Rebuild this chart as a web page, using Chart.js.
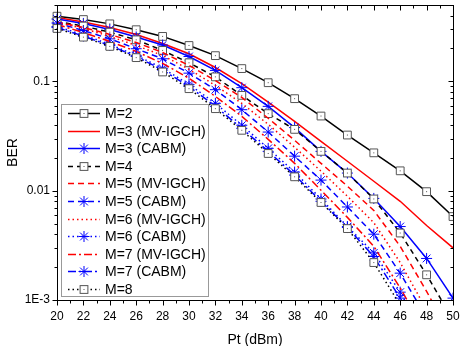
<!DOCTYPE html>
<html>
<head>
<meta charset="utf-8">
<script src="https://cdn.jsdelivr.net/npm/chart.js@4.4.1/dist/chart.umd.min.js"></script>
<style>
  html, body { margin: 0; padding: 0; background: #fff; }
  #wrap { width: 463px; height: 346px; }
</style>
</head>
<body>
<div id="wrap"><canvas id="berChart" width="463" height="346"></canvas></div>
<script>
// transmit power (dBm), one point every 2 dB
const ptDbm = [20, 22, 24, 26, 28, 30, 32, 34, 36, 38, 40, 42, 44, 46, 48, 50];

// BER
const berM2      = [0.395, 0.368, 0.336, 0.297, 0.258, 0.213, 0.172, 0.131, 0.0973, 0.0695, 0.0482, 0.0323, 0.0222, 0.0152, 0.0098, 0.0058];
const berM3Mv    = [0.384, 0.350, 0.311, 0.269, 0.222, 0.179, 0.134, 0.0953, 0.0647, 0.0431, 0.0283, 0.0186, 0.0122, 0.0080, 0.0048, 0.0030];
const berM3Cabm  = [0.372, 0.339, 0.299, 0.255, 0.215, 0.169, 0.126, 0.0876, 0.0591, 0.0378, 0.0229, 0.0145, 0.0085, 0.0047, 0.0024, 0.00104];
const berM4      = [0.353, 0.321, 0.282, 0.240, 0.192, 0.148, 0.110, 0.0745, 0.0507, 0.0364, 0.0229, 0.0145, 0.0084, 0.0041, 0.0017, 0.00066];
const berM5Mv    = [0.350, 0.311, 0.269, 0.227, 0.184, 0.140, 0.102, 0.0714, 0.0460, 0.0289, 0.0178, 0.0110, 0.0066, 0.0031, 0.0012, 0.00043];
const berM5Cabm  = [0.342, 0.292, 0.245, 0.199, 0.161, 0.119, 0.0840, 0.0551, 0.0344, 0.0207, 0.0125, 0.0071, 0.0040, 0.00176, 0.00069, 0.00026];
const berM6Mv    = [0.346, 0.305, 0.258, 0.213, 0.173, 0.129, 0.0919, 0.0630, 0.0405, 0.0250, 0.0151, 0.0089, 0.0051, 0.0022, 0.00081, 0.00028];
const berM6Cabm  = [0.318, 0.266, 0.218, 0.173, 0.132, 0.0939, 0.0630, 0.0397, 0.0244, 0.0148, 0.0084, 0.0047, 0.0027, 0.00118, 0.00043, 0.00015];
const berM7Mv    = [0.332, 0.280, 0.232, 0.188, 0.146, 0.107, 0.0729, 0.0479, 0.0295, 0.0178, 0.0101, 0.0057, 0.0031, 0.00129, 0.00048, 0.00017];
const berM7Cabm  = [0.311, 0.260, 0.213, 0.169, 0.127, 0.0900, 0.0591, 0.0372, 0.0229, 0.0139, 0.0080, 0.0046, 0.0025, 0.00104, 0.00039, 0.00014];
const berM8      = [0.305, 0.254, 0.209, 0.165, 0.122, 0.0858, 0.0563, 0.0357, 0.0219, 0.0134, 0.0078, 0.0045, 0.0022, 0.0009, 0.00035, 0.00012];

const seriesLabels = ['M=2', 'M=3 (MV-IGCH)', 'M=3 (CABM)', 'M=4', 'M=5 (MV-IGCH)', 'M=5 (CABM)',
                      'M=6 (MV-IGCH)', 'M=6 (CABM)', 'M=7 (MV-IGCH)', 'M=7 (CABM)', 'M=8'];
const seriesValues = [berM2, berM3Mv, berM3Cabm, berM4, berM5Mv, berM5Cabm,
                      berM6Mv, berM6Cabm, berM7Mv, berM7Cabm, berM8];

const xMin = 20, xMax = 50, xTickStep = 2;
const yMin = 0.001, yMax = 0.5;
const yTickLabels = { '-1': '0.1', '-2': '0.01', '-3': '1E-3' };

const BLACK = '#000000', RED = '#ff0000', BLUE = '#0000ff';
const SOLID = [], DASH = [6, 4], DOT = [1.5, 3], DASHDOT = [8, 3, 2, 3];
const FONT = 'Arial, "Liberation Sans", sans-serif';

const styles = [
    { color: BLACK, dash: SOLID,   marker: 'rect' },
    { color: RED,   dash: SOLID,   marker: null },
    { color: BLUE,  dash: SOLID,   marker: 'star' },
    { color: BLACK, dash: [5, 4],  marker: 'rect' },
    { color: RED,   dash: DASH,    marker: null },
    { color: BLUE,  dash: DASH,    marker: 'star' },
    { color: RED,   dash: DOT,     marker: null },
    { color: BLUE,  dash: DOT,     marker: 'star' },
    { color: RED,   dash: DASHDOT, marker: null },
    { color: BLUE,  dash: DASHDOT, marker: 'star' },
    { color: BLACK, dash: DOT,     marker: 'rect' },
];

const datasets = seriesLabels.map((label, i) => {
    const s = styles[i];
    return {
        label: label,
        data: ptDbm.map((x, j) => ({ x: x, y: seriesValues[i][j] })),
        borderColor: s.color,
        borderWidth: 1.5,
        borderDash: s.dash,
        pointStyle: s.marker || 'circle',
        pointRadius: s.marker ? 5.5 : 0,
        pointBorderWidth: 1,
        pointBorderColor: s.marker === 'rect' ? '#555555' : s.color,
        pointBackgroundColor: '#ffffff',
        fill: false,
        tension: 0,
        order: -i,
        clip: { left: 8, top: 8, right: 0, bottom: 0 }
    };
});

function drawMarker(ctx, style, x, y, r, stroke, fill)
{
    ctx.save();
    ctx.setLineDash([]);
    ctx.lineWidth = 1;
    ctx.strokeStyle = stroke;
    ctx.fillStyle = fill;
    if (style === 'rect') {
        const s = r * Math.SQRT1_2;
        ctx.fillRect(x - s, y - s, 2 * s, 2 * s);
        ctx.strokeRect(x - s, y - s, 2 * s, 2 * s);
        ctx.fillStyle = stroke;
        ctx.fillRect(x - 0.5, y - 0.5, 1, 1);
    } else if (style === 'star') {
        const d = r * Math.SQRT1_2;
        ctx.beginPath();
        ctx.moveTo(x - r, y); ctx.lineTo(x + r, y);
        ctx.moveTo(x, y - r); ctx.lineTo(x, y + r);
        ctx.moveTo(x - d, y - d); ctx.lineTo(x + d, y + d);
        ctx.moveTo(x - d, y + d); ctx.lineTo(x + d, y - d);
        ctx.stroke();
    }
    ctx.restore();
}

// Origin-like frame: box, ticks on all four sides, legend inside the plot
const originFrame = {
    id: 'originFrame',
    afterDatasetsDraw(chart)
    {
        const { ctx, chartArea: a, scales: { x, y } } = chart;
        ctx.save();

        // small dot in the middle of the square markers
        chart.data.datasets.forEach((ds, i) => {
            if (ds.pointStyle !== 'rect') return;
            ctx.fillStyle = '#555555';
            chart.getDatasetMeta(i).data.forEach(p => {
                if (p.x >= a.left - 4 && p.x <= a.right && p.y >= a.top && p.y <= a.bottom) {
                    ctx.fillRect(p.x - 0.5, p.y - 0.5, 1, 1);
                }
            });
        });

        const L = Math.round(a.left) + 0.5, R = Math.round(a.right) + 0.5;
        const T = Math.round(a.top) + 0.5, B = Math.round(a.bottom) + 0.5;
        ctx.setLineDash([]);
        ctx.strokeStyle = '#000';
        ctx.lineWidth = 1;
        ctx.strokeRect(L, T, R - L, B - T);

        ctx.beginPath();
        for (let v = xMin; v <= xMax; v++) {
            const px = Math.round(x.getPixelForValue(v)) + 0.5;
            const len = v % xTickStep === 0 ? 5 : 3;
            ctx.moveTo(px, B); ctx.lineTo(px, B + len);
            ctx.moveTo(px, T); ctx.lineTo(px, T + len);
        }
        for (let e = -3; e <= -1; e++) {
            for (let m = 1; m <= 9; m++) {
                const v = m * Math.pow(10, e);
                if (v > yMax * 1.0001) break;
                const py = Math.round(y.getPixelForValue(v)) + 0.5;
                const len = m === 1 ? 5 : 3;
                ctx.moveTo(L, py); ctx.lineTo(L - len, py);
                ctx.moveTo(R, py); ctx.lineTo(R - len, py);
            }
        }
        ctx.stroke();

        // legend box
        const bx = 61.5, by = 104.5, bw = 147, bh = 192;
        ctx.fillStyle = '#ffffff';
        ctx.fillRect(bx, by, bw, bh);
        ctx.strokeStyle = '#999999';
        ctx.strokeRect(bx, by, bw, bh);

        ctx.font = '14px ' + FONT;
        ctx.textBaseline = 'middle';
        chart.data.datasets.forEach((ds, i) => {
            const ry = Math.round(113 + i * 17.6) + 0.5;
            ctx.setLineDash(ds.borderDash);
            ctx.strokeStyle = ds.borderColor;
            ctx.lineWidth = ds.borderWidth;
            ctx.beginPath();
            ctx.moveTo(68, ry);
            ctx.lineTo(100, ry);
            ctx.stroke();
            if (ds.pointRadius > 0) {
                drawMarker(ctx, ds.pointStyle, 84, ry, ds.pointRadius, ds.pointBorderColor, ds.pointBackgroundColor);
            }
            ctx.fillStyle = '#000';
            ctx.fillText(ds.label, 105, ry + 1);
        });

        ctx.restore();
    }
};

new Chart(document.getElementById('berChart'), {
    type: 'line',
    data: { datasets: datasets },
    plugins: [originFrame],
    options: {
        responsive: false,
        animation: false,
        devicePixelRatio: 1,
        layout: { autoPadding: false, padding: { top: 5, right: 10, left: 0, bottom: 0 } },
        plugins: {
            legend: { display: false },
            tooltip: { enabled: false }
        },
        scales: {
            x: {
                type: 'linear',
                min: xMin,
                max: xMax,
                grid: { display: false, drawTicks: true, tickLength: 8 },
                border: { display: false },
                ticks: {
                    stepSize: xTickStep,
                    autoSkip: false,
                    maxRotation: 0,
                    padding: 1,
                    color: '#000',
                    font: { family: FONT, size: 12 }
                },
                title: {
                    display: true,
                    text: 'Pt (dBm)',
                    color: '#000',
                    font: { family: FONT, size: 14 },
                    padding: { top: 0, bottom: -3 }
                },
                afterFit(scale) {
                    scale.height = 46;
                    scale.paddingLeft = 0;
                    scale.paddingRight = 0;
                }
            },
            y: {
                type: 'logarithmic',
                min: yMin,
                max: yMax,
                grid: { display: false, drawTicks: true, tickLength: 6 },
                border: { display: false },
                ticks: {
                    autoSkip: false,
                    padding: 1,
                    color: '#000',
                    font: { family: FONT, size: 12 },
                    callback: function (value) {
                        const e = Math.log10(value);
                        const r = Math.round(e);
                        if (Math.abs(e - r) < 1e-6 && yTickLabels[String(r)]) return yTickLabels[String(r)];
                        return null;
                    }
                },
                title: {
                    display: true,
                    text: 'BER',
                    color: '#000',
                    font: { family: FONT, size: 14 },
                    padding: { top: 5, bottom: 0 }
                },
                afterFit(scale) {
                    scale.width = 57;
                    scale.paddingTop = 0;
                    scale.paddingBottom = 0;
                }
            }
        }
    }
});
</script>
</body>
</html>
